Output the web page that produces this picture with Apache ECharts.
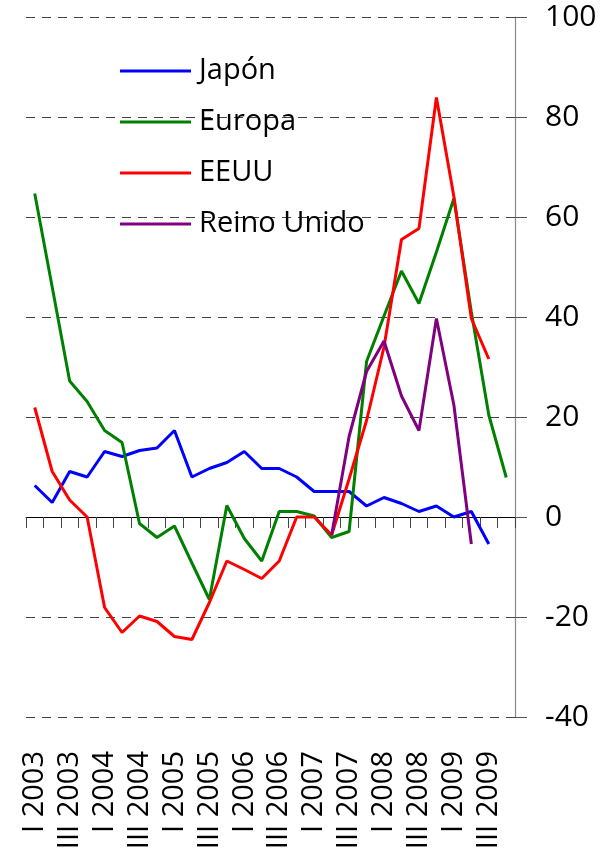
<!DOCTYPE html>
<html>
<head>
<meta charset="utf-8">
<script src="https://cdn.jsdelivr.net/npm/echarts@6/dist/echarts.min.js"></script>
<style>
  html, body { margin: 0; padding: 0; background: #fff; }
  #chart { width: 600px; height: 860px; }
</style>
</head>
<body>
<div id="chart"></div>
<script>
// trimestres I 2003 .. IV 2009
var years = ['2003', '2004', '2005', '2006', '2007', '2008', '2009'];
var quarters = ['I', 'II', 'III', 'IV'];
var categories = [];
years.forEach(function (y) {
    quarters.forEach(function (q) { categories.push(q + ' ' + y); });
});

var japon = [6.3, 2.9, 9.1, 8.0, 13.1, 12.1, 13.3, 13.8, 17.3, 8.0, 9.7, 10.9, 13.1, 9.7,
    9.7, 8.0, 5.1, 5.1, 5.1, 2.2, 3.9, 2.7, 1.1, 2.2, 0.0, 1.1, -5.4];
var europa = [64.7, 46.0, 27.2, 23.1, 17.3, 14.9, -1.3, -4.1, -1.8, -9.2, -16.5, 2.3, -4.3, -8.8,
    1.1, 1.1, 0.2, -4.1, -2.9, 31.1, 40.2, 49.2, 42.7, 53.0, 63.7, 41.0, 20.4, 7.9];
var eeuu = [21.9, 9.1, 3.4, 0.0, -18.1, -23.1, -19.8, -20.9, -23.9, -24.5, -17.1, -8.8, -10.5, -12.3,
    -8.8, 0.0, 0.0, -3.6, 7.6, 19.3, 34.0, 55.5, 57.7, 83.9, 64.1, 39.7, 31.6];
var reinoUnido = [null, null, null, null, null, null, null, null, null, null, null, null, null, null,
    null, null, null, -3.6, 16.1, 29.1, 35.2, 24.2, 17.3, 39.7, 22.4, -5.4];

var yTicks = { min: -40, max: 100, interval: 20 };

var font = 'Open Sans';
var dom = document.getElementById('chart');
var myChart = echarts.init(dom);

function line(name, data, color) {
    return {
        name: name,
        type: 'line',
        data: data,
        xAxisIndex: 0,
        symbol: 'none',
        connectNulls: false,
        lineStyle: { color: color, width: 3 },
        itemStyle: { color: color }
    };
}

var option = {
    animation: false,
    grid: { left: 26, right: 85, top: 17, bottom: 143 },
    legend: {
        orient: 'vertical',
        left: 115,
        top: 51,
        icon: 'rect',
        itemWidth: 71,
        itemHeight: 3,
        itemGap: 21,
        textStyle: { fontFamily: font, fontSize: 29, color: '#000', lineHeight: 30, padding: [0, 0, 0, 3] },
        data: ['Japón', 'Europa', 'EEUU', 'Reino Unido']
    },
    xAxis: [{
        type: 'category',
        data: categories,
        boundaryGap: true,
        axisLine: { onZero: true, lineStyle: { color: '#000', width: 1 } },
        axisTick: { show: true, interval: 0, length: 11, lineStyle: { color: '#444' } },
        axisLabel: { show: false },
        splitLine: { show: false }
    }, {
        type: 'category',
        data: categories,
        position: 'bottom',
        boundaryGap: true,
        axisLine: { show: false, onZero: false },
        axisTick: { show: false },
        axisLabel: {
            interval: 1,
            rotate: 90,
            margin: 34,
            fontFamily: font,
            fontSize: 29,
            color: '#000'
        },
        splitLine: { show: false }
    }],
    yAxis: {
        type: 'value',
        position: 'right',
        min: yTicks.min,
        max: yTicks.max,
        interval: yTicks.interval,
        axisLine: { show: true, lineStyle: { color: '#888', width: 1.2 } },
        axisTick: { show: true, length: 12, lineStyle: { color: '#555' } },
        axisLabel: { margin: 30, fontFamily: font, fontSize: 30, color: '#000' },
        splitLine: { show: true, lineStyle: { color: '#444', type: [9, 7], width: 1 } }
    },
    series: [
        line('Japón', japon, '#0000ff'),
        line('Europa', europa, '#008000'),
        line('EEUU', eeuu, '#ff0000'),
        line('Reino Unido', reinoUnido, '#800080')
    ]
};

myChart.setOption(option);
</script>
</body>
</html>
